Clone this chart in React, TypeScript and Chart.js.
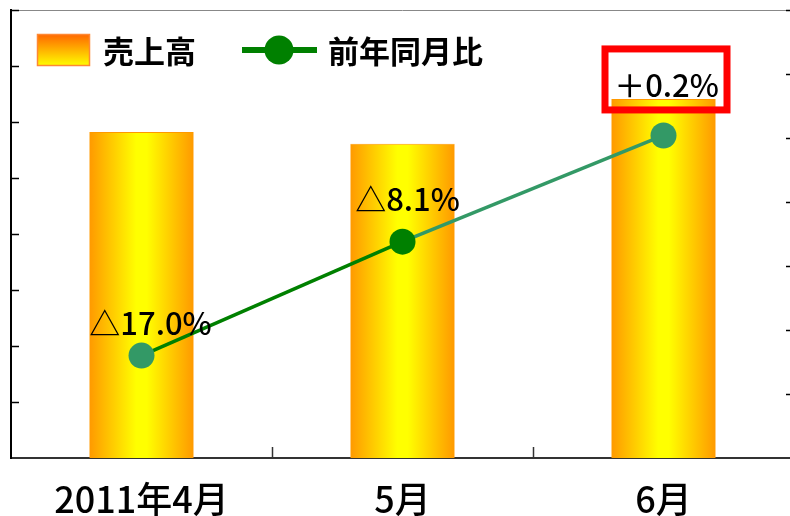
import React, { useEffect, useRef } from "react";
import { Chart, registerables } from "chart.js";

Chart.register(...registerables);

// ---- data ----
const categories = ["2011年4月", "5月", "6月"];
const salesValues = [582, 561, 641];
const yoyValues = [-17.0, -8.1, 0.2];
const yoyLabels = ["△17.0%", "△8.1%", "＋0.2%"];
const legendLabels = ["売上高", "前年同月比"];
const highlightIndex = 2;

// ---- styles ----
const FONT = '"Noto Sans CJK JP", "Noto Sans", sans-serif';
const DARK_GREEN = "#008000";
const SEA_GREEN = "#339966";
const pointColors = [SEA_GREEN, DARK_GREEN, SEA_GREEN];
const segmentColors = [DARK_GREEN, SEA_GREEN];
const labelOffsets = [
  { dx: 9, dy: -32 },
  { dx: 5, dy: -42 },
  { dx: 3, dy: -50 },
];
const BAR_PCT = 0.4;

const decorPlugin = {
  id: "decor",
  afterDraw(chart: any) {
    const { ctx, chartArea } = chart;
    const { left, right, top, bottom } = chartArea;
    const ys = chart.scales.y;
    const y1s = chart.scales.y1;
    const xs = chart.scales.x;
    ctx.save();

    // top border of plot area
    ctx.strokeStyle = "#888888";
    ctx.lineWidth = 1;
    ctx.beginPath();
    ctx.moveTo(left, top + 0.5);
    ctx.lineTo(right, top + 0.5);
    ctx.stroke();

    // left axis inward ticks
    ctx.strokeStyle = "#000000";
    ctx.lineWidth = 1.5;
    ys.ticks.forEach((t: any) => {
      if (t.value === ys.min) return;
      const y = Math.round(ys.getPixelForValue(t.value)) + 0.5;
      ctx.beginPath();
      ctx.moveTo(left, y);
      ctx.lineTo(left + 8, y);
      ctx.stroke();
    });
    // right axis inward ticks
    y1s.ticks.forEach((t: any) => {
      if (t.value === y1s.min) return;
      const y = Math.round(y1s.getPixelForValue(t.value)) + 0.5;
      ctx.beginPath();
      ctx.moveTo(right - 8, y);
      ctx.lineTo(right, y);
      ctx.stroke();
    });
    // category divider ticks (inward, upward)
    ctx.strokeStyle = "#333333";
    for (let i = 1; i < categories.length; i++) {
      const x = Math.round((xs.getPixelForValue(i - 1) + xs.getPixelForValue(i)) / 2) + 0.5;
      ctx.beginPath();
      ctx.moveTo(x, bottom);
      ctx.lineTo(x, bottom - 11);
      ctx.stroke();
    }

    // data labels
    const meta = chart.getDatasetMeta(0);
    ctx.fillStyle = "#000000";
    ctx.font = `500 31px ${FONT}`;
    ctx.textAlign = "center";
    ctx.textBaseline = "middle";
    meta.data.forEach((pt: any, i: number) => {
      const cx = pt.x + labelOffsets[i].dx;
      const cy = pt.y + labelOffsets[i].dy;
      ctx.fillText(yoyLabels[i], cx, cy);
      if (i === highlightIndex) {
        ctx.strokeStyle = "#FF0000";
        ctx.lineWidth = 7;
        ctx.strokeRect(cx - 61.5, cy - 36.5, 122, 61);
      }
    });

    // legend
    const sw = ctx.createLinearGradient(0, 34, 0, 66);
    sw.addColorStop(0, "#FF6600");
    sw.addColorStop(1, "#FFFF00");
    ctx.fillStyle = sw;
    ctx.fillRect(37, 34, 53, 32);
    ctx.strokeStyle = "#FF8833";
    ctx.lineWidth = 1.5;
    ctx.strokeRect(37.5, 34.5, 52, 31);

    ctx.fillStyle = "#000000";
    ctx.font = `bold 31px ${FONT}`;
    ctx.textAlign = "left";
    ctx.textBaseline = "middle";
    ctx.fillText(legendLabels[0], 103, 51);

    ctx.strokeStyle = DARK_GREEN;
    ctx.lineWidth = 6;
    ctx.beginPath();
    ctx.moveTo(242, 50);
    ctx.lineTo(317, 50);
    ctx.stroke();
    ctx.fillStyle = DARK_GREEN;
    ctx.beginPath();
    ctx.arc(279, 50, 14.5, 0, Math.PI * 2);
    ctx.fill();

    ctx.fillStyle = "#000000";
    ctx.fillText(legendLabels[1], 328, 51);

    ctx.restore();
  },
};

export default function App() {
  const canvasRef = useRef<HTMLCanvasElement | null>(null);

  useEffect(() => {
    document.body.style.margin = "0";
    document.documentElement.style.overflow = "hidden";
    const canvas = canvasRef.current;
    if (!canvas) return;

    const barBg = (c: any) => {
      const chart = c.chart;
      const xs = chart.scales?.x;
      if (!xs || c.dataIndex === undefined || !chart.chartArea) return "#FFCC00";
      const cx = xs.getPixelForValue(c.dataIndex);
      const w = (xs.width / categories.length) * BAR_PCT;
      const g = chart.ctx.createLinearGradient(cx - w / 2, 0, cx + w / 2, 0);
      g.addColorStop(0, "#FF9900");
      g.addColorStop(0.45, "#FFFF00");
      g.addColorStop(0.55, "#FFFF00");
      g.addColorStop(1, "#FF9900");
      return g;
    };

    const noPad = (s: any) => {
      s.paddingLeft = 0;
      s.paddingRight = 0;
      s.paddingTop = 0;
      s.paddingBottom = 0;
    };

    const chart = new Chart(canvas, {
      type: "bar",
      data: {
        labels: categories,
        datasets: [
          {
            type: "line",
            label: legendLabels[1],
            data: yoyValues,
            yAxisID: "y1",
            order: 0,
            borderColor: DARK_GREEN,
            borderWidth: 3.5,
            segment: {
              borderColor: (s: any) => segmentColors[s.p0DataIndex],
            },
            pointRadius: 13,
            pointHoverRadius: 13,
            pointBorderWidth: 0,
            pointBackgroundColor: pointColors,
            pointBorderColor: pointColors,
            tension: 0,
          } as any,
          {
            type: "bar",
            label: legendLabels[0],
            data: salesValues,
            yAxisID: "y",
            order: 1,
            backgroundColor: barBg,
            borderColor: "#FF9900",
            borderWidth: { top: 1, left: 0, right: 0, bottom: 0 },
            borderSkipped: false,
            categoryPercentage: 1,
            barPercentage: BAR_PCT,
          } as any,
        ],
      },
      options: {
        responsive: false,
        animation: false,
        layout: { autoPadding: false, padding: { top: 10, left: 0, right: 0, bottom: 0 } },
        plugins: {
          legend: { display: false },
          tooltip: { enabled: false },
        },
        scales: {
          x: {
            type: "category",
            offset: true,
            grid: { display: false },
            border: { display: true, color: "#333333", width: 2 },
            ticks: {
              color: "#000000",
              font: { family: FONT, size: 36, weight: "500" },
              padding: 12,
              maxRotation: 0,
              autoSkip: false,
            },
            afterFit: (s: any) => {
              s.height = 58;
              noPad(s);
            },
          },
          y: {
            position: "left",
            min: 0,
            max: 800,
            ticks: { display: false, stepSize: 100 },
            grid: { display: false },
            border: { display: true, color: "#000000", width: 2 },
            afterFit: (s: any) => {
              s.width = 11;
              noPad(s);
            },
          },
          y1: {
            position: "right",
            min: -25,
            max: 10,
            ticks: { display: false, stepSize: 5 },
            grid: { display: false },
            border: { display: true, color: "#000000", width: 2 },
            afterFit: (s: any) => {
              s.width = 2;
              noPad(s);
            },
          },
        },
      },
      plugins: [decorPlugin],
    });

    return () => chart.destroy();
  }, []);

  return (
    <div style={{ width: 790, height: 516, overflow: "hidden", position: "relative", background: "#ffffff" }}>
      <canvas ref={canvasRef} width={796} height={516} style={{ display: "block" }} />
    </div>
  );
}
